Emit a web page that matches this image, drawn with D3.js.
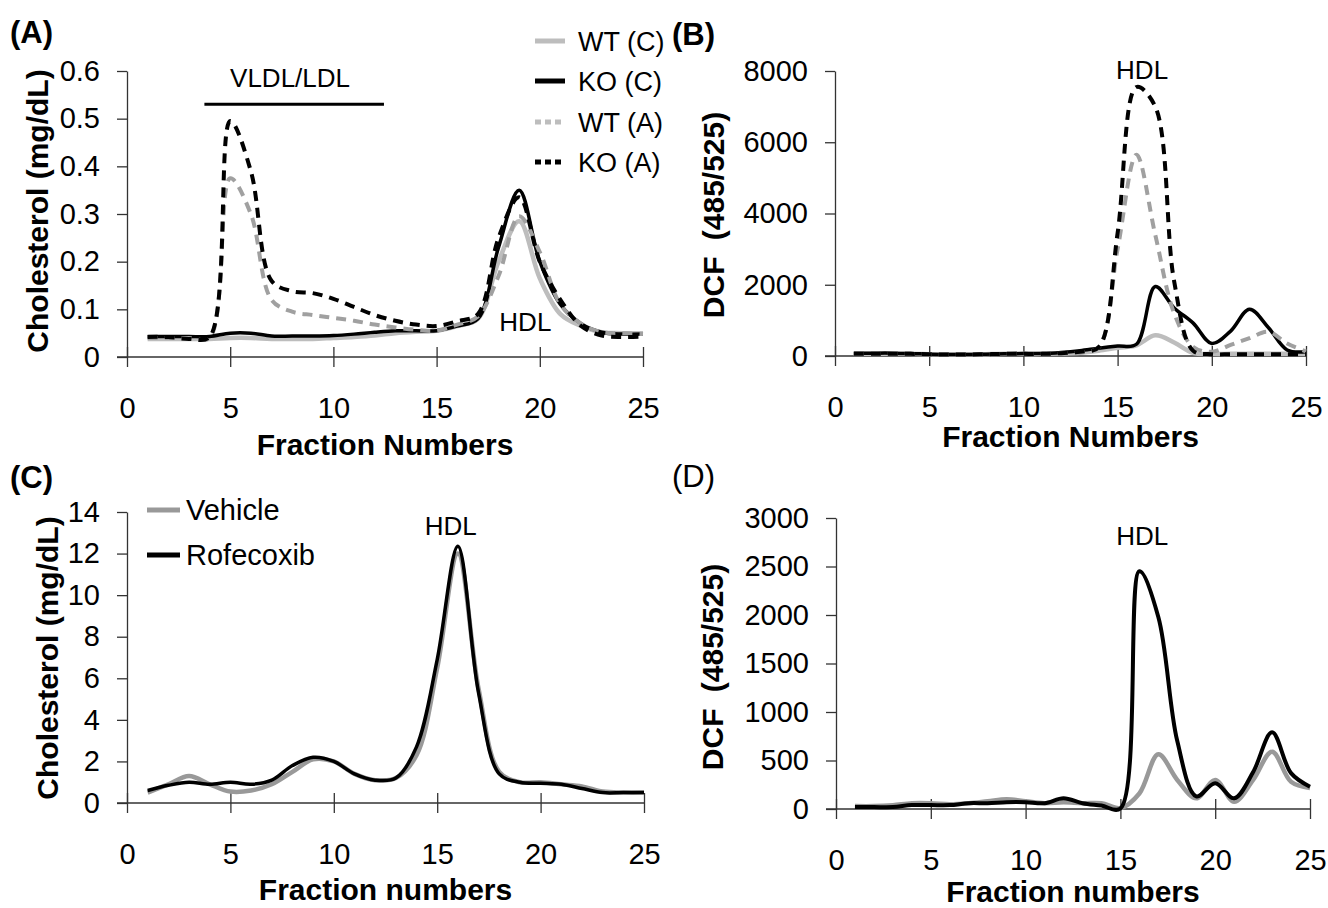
<!DOCTYPE html>
<html>
<head>
<meta charset="utf-8">
<script src="https://cdn.jsdelivr.net/npm/d3@7"></script>
<style>
  html, body { margin: 0; padding: 0; background: #fff; }
  svg { display: block; }
  text { font-family: "Liberation Sans", Arial, sans-serif; fill: #000; }
</style>
</head>
<body>
<svg id="chart" width="1328" height="908"></svg>
<script>
// ---------- DATA ----------
const fractions = [1,2,3,4,5,6,7,8,9,10,11,12,13,14,15,16,17,18,19,20,21,22,23,24,25];
const xTicks = [0,5,10,15,20,25];

// Panel A: cholesterol (mg/dL)
const aTicksY = [0,0.1,0.2,0.3,0.4,0.5,0.6];
const aWTC = [0.038,0.038,0.038,0.038,0.040,0.040,0.038,0.038,0.038,0.040,0.042,0.045,0.050,0.053,0.055,0.065,0.080,0.200,0.285,0.165,0.090,0.065,0.052,0.050,0.050];
const aKOC = [0.043,0.043,0.043,0.043,0.050,0.050,0.044,0.044,0.044,0.045,0.048,0.052,0.055,0.055,0.055,0.065,0.080,0.230,0.350,0.200,0.110,0.070,0.052,0.048,0.048];
const aWTA = [0.040,0.040,0.040,0.040,0.375,0.300,0.120,0.095,0.088,0.082,0.076,0.068,0.062,0.057,0.055,0.068,0.085,0.170,0.295,0.220,0.110,0.070,0.052,0.050,0.048];
const aKOA = [0.042,0.042,0.038,0.042,0.495,0.390,0.160,0.138,0.134,0.122,0.105,0.088,0.076,0.068,0.065,0.075,0.090,0.250,0.335,0.200,0.120,0.065,0.045,0.042,0.043];

// Panel B: DCF (485/525)
const bTicksY = [0,2000,4000,6000,8000];
const bWTC = [60,60,60,60,50,40,40,50,60,60,60,70,90,150,230,300,580,380,90,60,60,60,60,60,60];
const bKOC = [80,80,80,70,50,40,40,50,60,70,70,100,150,220,280,330,1950,1350,930,350,700,1310,800,170,120];
const bWTA = [60,60,60,60,50,40,40,50,60,60,60,70,100,250,3000,5650,3400,1200,260,120,310,500,680,350,130];
const bKOA = [60,60,60,60,50,40,40,50,60,60,60,80,120,250,3450,7550,7000,2100,150,50,50,50,50,50,50];

// Panel C: cholesterol (mg/dL)
const cTicksY = [0,2,4,6,8,10,12,14];
const cVehicle = [0.5,0.9,1.3,0.9,0.55,0.6,0.9,1.5,2.1,2.0,1.4,1.1,1.2,2.3,6.5,12.0,5.5,1.5,1.0,1.0,0.9,0.8,0.55,0.5,0.5];
const cRofecoxib = [0.6,0.85,1.0,0.9,1.0,0.9,1.1,1.8,2.2,2.0,1.4,1.1,1.2,2.7,6.9,12.35,5.3,1.4,1.0,0.95,0.9,0.7,0.5,0.5,0.5];

// Panel D: DCF (485/525)
const dTicksY = [0,500,1000,1500,2000,2500,3000];
const dVehicle = [30,30,40,60,60,50,60,80,100,80,60,70,60,60,10,160,565,300,110,300,75,300,590,280,215];
const dRofecoxib = [20,20,20,40,40,40,60,60,70,70,60,110,60,35,5,2450,1980,700,130,265,110,380,790,370,230];

// ---------- DRAWING ----------
const svg = d3.select("#chart");
const curve = d3.curveCatmullRom.alpha(0.5);

function panel(cfg) {
  const x = d3.scaleLinear().domain([0,25]).range(cfg.xr);
  const y = d3.scaleLinear().domain(cfg.yd).range(cfg.yr);
  const g = svg.append("g");

  // y axis
  const ya = g.append("g").attr("transform", `translate(${cfg.xr[0]},0)`)
    .call(d3.axisLeft(y).tickValues(cfg.yt).tickSize(10).tickSizeOuter(0).tickPadding(17).tickFormat(cfg.yfmt));
  // x axis
  const xa = g.append("g").attr("transform", `translate(0,${cfg.yr[0]})`)
    .call(d3.axisBottom(x).tickValues(xTicks).tickSizeInner(10).tickSizeOuter(0).tickPadding(30).tickFormat(d3.format("d")));
  xa.selectAll(".tick line").attr("y1", -10).attr("y2", 10);
  xa.select(".domain").attr("d", `M${cfg.xr[0]-10},0H${cfg.xr[1]}`);
  [ya, xa].forEach(a => {
    a.select(".domain").attr("stroke", "#333").attr("stroke-width", 1.3);
    a.selectAll(".tick line").attr("stroke", "#333").attr("stroke-width", 1.3);
    a.selectAll(".tick text").style("font-size", "29px").attr("fill", "#000");
  });

  // series
  cfg.series.forEach(s => {
    const line = d3.line().x((d,i) => x(fractions[i])).y(d => y(d)).curve(curve);
    g.append("path").datum(s.data).attr("d", line)
      .attr("fill", "none").attr("stroke", s.color).attr("stroke-width", s.width)
      .attr("stroke-dasharray", s.dash || null).attr("stroke-linejoin", "round");
  });

  // titles
  g.append("text").attr("x", (cfg.xr[0]+cfg.xr[1])/2).attr("y", cfg.xtY)
    .attr("text-anchor", "middle").style("font-size", "30px").style("font-weight", "bold").text(cfg.xTitle);
  g.append("text").attr("transform", `translate(${cfg.ytX},${cfg.ytY}) rotate(-90)`)
    .attr("text-anchor", "middle").attr("dy", "0.36em")
    .style("font-size", "30px").style("font-weight", "bold").style("word-spacing", cfg.ws || "0px").text(cfg.yTitle);
  g.append("text").attr("x", cfg.lx).attr("y", cfg.ly)
    .style("font-size", "31px").style("font-weight", cfg.lw).text(cfg.label);
  return {x, y, g};
}

const gray = "#bdbdbd", midGray = "#a0a0a0";

const A = panel({
  xr: [127, 643], yd: [0, 0.6], yr: [357, 71], yt: aTicksY, yfmt: d => d === 0 ? "0" : d3.format(".1f")(d),
  xTitle: "Fraction Numbers", xtY: 455, yTitle: "Cholesterol (mg/dL)", ytX: 37, ytY: 211,
  label: "(A)", lx: 10, ly: 43, lw: "bold",
  series: [
    {data: aWTC, color: gray, width: 4.5},
    {data: aKOC, color: "#000", width: 3.5},
    {data: aWTA, color: midGray, width: 4, dash: "10,7"},
    {data: aKOA, color: "#000", width: 4, dash: "10,7"}
  ]
});
const B = panel({
  xr: [835, 1306], yd: [0, 8000], yr: [356, 71], yt: bTicksY, yfmt: d3.format("d"),
  xTitle: "Fraction Numbers", xtY: 447, yTitle: "DCF (485/525)", ytX: 713, ytY: 215, ws: "8px",
  label: "(B)", lx: 672, ly: 45, lw: "bold",
  series: [
    {data: bWTC, color: gray, width: 4.5},
    {data: bKOC, color: "#000", width: 3.5},
    {data: bWTA, color: midGray, width: 4, dash: "10,7"},
    {data: bKOA, color: "#000", width: 4, dash: "10,7"}
  ]
});
const C = panel({
  xr: [127, 644], yd: [0, 14], yr: [803, 512], yt: cTicksY, yfmt: d3.format("d"),
  xTitle: "Fraction numbers", xtY: 900, yTitle: "Cholesterol (mg/dL)", ytX: 47, ytY: 658,
  label: "(C)", lx: 10, ly: 488, lw: "bold",
  series: [
    {data: cVehicle, color: "#999", width: 4.5},
    {data: cRofecoxib, color: "#000", width: 3.5}
  ]
});
const D = panel({
  xr: [836, 1310], yd: [0, 3000], yr: [809, 518], yt: dTicksY, yfmt: d3.format("d"),
  xTitle: "Fraction numbers", xtY: 902, yTitle: "DCF (485/525)", ytX: 712, ytY: 667, ws: "8px",
  label: "(D)", lx: 672, ly: 487, lw: "normal",
  series: [
    {data: dVehicle, color: "#999", width: 4.5},
    {data: dRofecoxib, color: "#000", width: 4}
  ]
});

// ---------- ANNOTATIONS ----------
function note(p, txt, xv, yv, size) {
  p.g.append("text").attr("x", p.x(xv)).attr("y", p.y(yv)).attr("text-anchor", "middle")
    .attr("dy", "0.36em").style("font-size", (size || 26) + "px").text(txt);
}
// VLDL/LDL bar
A.g.append("line").attr("x1", A.x(3.75)).attr("x2", A.x(12.45)).attr("y1", A.y(0.53)).attr("y2", A.y(0.53))
  .attr("stroke", "#000").attr("stroke-width", 3);
note(A, "VLDL/LDL", 7.9, 0.587, 26);
note(A, "HDL", 19.3, 0.074, 26);
note(B, "HDL", 16.3, 8040, 26);
note(C, "HDL", 15.65, 13.35, 26);
note(D, "HDL", 16.15, 2820, 26);

// ---------- LEGENDS ----------
const legA = [
  {name: "WT (C)", color: gray, dash: null, w: 5, y: 41},
  {name: "KO (C)", color: "#000", dash: null, w: 5, y: 81},
  {name: "WT (A)", color: gray, dash: "6,4", w: 5, y: 122},
  {name: "KO (A)", color: "#000", dash: "6,4", w: 5, y: 162}
];
const lgA = svg.append("g");
legA.forEach(l => {
  lgA.append("line").attr("x1", 535).attr("x2", 565).attr("y1", l.y).attr("y2", l.y)
    .attr("stroke", l.color).attr("stroke-width", l.w).attr("stroke-dasharray", l.dash);
  lgA.append("text").attr("x", 578).attr("y", l.y).attr("dy", "0.36em").style("font-size", "27px").text(l.name);
});
const legC = [
  {name: "Vehicle", color: "#999", y: 510},
  {name: "Rofecoxib", color: "#000", y: 555}
];
const lgC = svg.append("g");
legC.forEach(l => {
  lgC.append("line").attr("x1", 147).attr("x2", 180).attr("y1", l.y).attr("y2", l.y)
    .attr("stroke", l.color).attr("stroke-width", 5);
  lgC.append("text").attr("x", 186).attr("y", l.y).attr("dy", "0.36em").style("font-size", "29px").text(l.name);
});
</script>
</body>
</html>
